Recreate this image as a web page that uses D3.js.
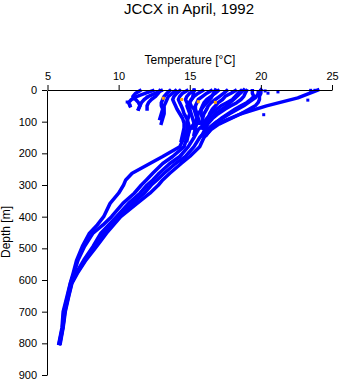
<!DOCTYPE html>
<html lang="en">
<head>
    <meta charset="UTF-8">
    <title>JCCX in April, 1992</title>
    <script src="https://cdn.jsdelivr.net/npm/d3@7"></script>
    <style>
        *{
            padding: 0;
            margin: 0;
        }
        body{
            background-color: #ffffff;
        }
        text{
            font-family: "Liberation Sans", Arial, sans-serif;
        }
    </style>
</head>
<body>
<div id="grafico"></div>

<script>
    // ticks
    var tempTicks = [5, 10, 15, 20, 25];
    var depthTicks = [0, 100, 200, 300, 400, 500, 600, 700, 800, 900];

    // deep casts, temperatures at common depths (m)
    var depthDeep = [0, 25, 50, 75, 100, 125, 150, 179, 210, 232, 263, 284, 300, 326, 358,
                     400, 426, 452, 494, 537, 579, 610, 650, 700, 750, 800];
    var cast1 = [15.3, 15.2, 14.8, 15.0, 14.8, 14.8, 14.6, 14.3, 13.1, 12.2, 10.95, 10.5, 10.35, 10.0, 9.4,
                 8.95, 8.5, 7.95, 7.45, 7.05, 6.8, 6.6, 6.38, 6.1, 6.02, 5.8];
    var cast2 = [16.8, 16.5, 16.0, 15.6, 15.4, 15.0, 14.8, 14.6, 13.8, 13.1, 12.4, 11.95, 11.6, 11.1, 10.3,
                 9.5, 8.9, 8.2, 7.6, 7.15, 6.85, 6.62, 6.42, 6.15, 6.05, 5.82];
    var cast3 = [18.8, 18.2, 17.6, 16.8, 16.2, 15.6, 15.3, 14.9, 14.3, 13.6, 12.85, 12.4, 12.0, 11.5, 10.7,
                 9.85, 9.3, 8.75, 8.2, 7.55, 7.0, 6.68, 6.45, 6.2, 6.07, 5.85];
    var cast4 = [20.0, 19.6, 18.8, 17.8, 16.9, 16.2, 15.7, 15.3, 14.7, 14.0, 13.2, 12.7, 12.3, 11.8, 11.0,
                 10.0, 9.5, 8.95, 8.35, 7.65, 7.05, 6.7, 6.48, 6.22, 6.08, 5.87];
    var cast5 = [24.0, 22.6, 20.4, 18.6, 17.3, 16.5, 16.0, 15.7, 15.0, 14.4, 13.6, 13.1, 12.8, 12.2, 11.3,
                 10.15, 9.65, 9.15, 8.45, 7.7, 7.1, 6.72, 6.5, 6.25, 6.1, 5.9];

    // shallow casts near the surface (null = no data)
    var depthShallow = [2, 10, 20, 30, 40, 50, 60, 75, 90, 105, 120, 140, 160];
    var shallow1 = [12.4, 11.9, 11.3, 10.9, 10.7, 10.8, null, null, null, null, null, null, null];
    var shallow2 = [13.0, 12.6, 12.1, 11.8, 11.6, 11.5, 11.4, null, null, null, null, null, null];
    var shallow3 = [13.6, 13.4, 13.2, 13.1, 13.0, 13.0, 13.1, 13.0, 12.9, null, null, null, null];
    var shallow4 = [14.3, 14.1, 13.9, 13.8, 13.9, 14.0, 14.1, 14.3, 14.5, 14.6, 14.6, 14.5, 14.4];
    var shallow5 = [15.3, 15.0, 14.8, 14.7, 14.8, 14.9, 15.0, 15.1, 15.2, 15.3, 15.2, null, null];
    var shallow6 = [16.5, 16.2, 15.9, 15.6, 15.5, 15.4, 15.4, 15.5, 15.6, 15.6, null, null, null];
    var shallow7 = [17.6, 17.4, 17.1, 16.8, 16.5, 16.3, 16.2, 16.0, 15.9, 15.8, null, null, null];
    var shallow8 = [18.6, 18.4, 18.2, 18.0, 17.6, 17.2, 16.9, 16.5, 16.2, 16.0, 15.9, null, null];
    var shallow9 = [19.4, 19.4, 19.5, 19.3, 19.0, 18.6, 18.2, 17.7, 17.2, 16.8, 16.5, 16.2, null];
    var shallow10 = [20.0, 20.0, 19.9, 19.9, 19.8, 19.6, 19.2, 18.6, 17.9, 17.2, null, null, null];
    var shallow11 = [14.8, 14.5, 14.3, 14.2, 14.3, 14.4, 14.5, 14.6, 14.8, 14.9, 15.0, 14.9, 14.8];
    var shallow12 = [15.9, 15.6, 15.3, 15.1, 15.0, 15.1, 15.3, 15.4, 15.5, 15.5, 15.4, 15.3, null];
    var shallow13 = [17.0, 16.8, 16.5, 16.2, 16.0, 15.9, 15.8, 15.8, 15.9, 16.0, 15.9, null, null];
    var shallow14 = [18.2, 17.9, 17.5, 17.3, 17.0, 16.8, 16.6, 16.4, 16.3, null, null, null, null];
    var shallow15 = [19.0, 18.9, 18.8, 18.6, 18.3, 17.9, 17.5, 17.0, 16.6, 16.3, 16.1, 15.9, null];
    var shallow16 = [11.5, 11.2, 11.0, 11.2, 11.4, 11.5, 11.4, null, null, null, null, null, null];
    var shallow17 = [12.9, 12.8, 12.6, 12.3, 12.1, 12.0, 12.0, null, null, null, null, null, null];
    var shallow18 = [14.0, 13.8, 13.5, 13.4, 13.3, 13.2, 13.2, 13.2, 13.1, 13.0, null, null, null];

    // loose points
    var dotT = [20.5, 20.2, 21.2, 23.3, 23.5, 23.8, 19.8, 20.3, 11.0, 12.0, 10.6, 10.8];
    var dotD = [10, 78, 6, 32, 1, 1, 5, 3, 28, 22, 38, 48];

    // highlighted points
    var markT = [13.14, 14.43, 15.6, 16.8];
    var markD = [26, 30, 37, 39];

    var w = 341;
    var h = 384;

    var xScale = d3.scaleLinear()
        .domain([5, 25])
        .range([47.5, 332]);
    var yScale = d3.scaleLinear()
        .domain([0, 900])
        .range([90, 375]);

    var grafico = d3.select("#grafico")
        .append("svg")
        .attr("width", w)
        .attr("height", h);

    function toPoints(depths, temps) {
        return depths.map(function(d, i) {
            return {d: d, t: temps[i]};
        });
    }

    var linea = d3.line()
        .defined(function(p) { return p.t != null; })
        .x(function(p) { return xScale(p.t); })
        .y(function(p) { return yScale(p.d); });

    var shallowCasts = [shallow1, shallow2, shallow3, shallow4, shallow5, shallow6,
                        shallow7, shallow8, shallow9, shallow10, shallow11, shallow12,
                        shallow13, shallow14, shallow15, shallow16, shallow17, shallow18];
    var deepCasts = [cast1, cast2, cast3, cast4, cast5];

    var casts = shallowCasts.map(function(c) { return toPoints(depthShallow, c); })
        .concat(deepCasts.map(function(c) { return toPoints(depthDeep, c); }));

    grafico.selectAll("path.cast")
        .data(casts)
        .enter()
        .append("path")
        .attr("class", "cast")
        .attr("d", linea)
        .attr("fill", "none")
        .attr("stroke", "#0000ff")
        .attr("stroke-width", 3.5)
        .attr("stroke-linejoin", "round")
        .attr("stroke-linecap", "square");

    grafico.selectAll("rect.dot")
        .data(toPoints(dotD, dotT))
        .enter()
        .append("rect")
        .attr("class", "dot")
        .attr("x", function(p) { return xScale(p.t) - 1.5; })
        .attr("y", function(p) { return yScale(p.d) - 1.5; })
        .attr("width", 3)
        .attr("height", 3)
        .attr("fill", "#0000ff");

    grafico.selectAll("rect.mark")
        .data(toPoints(markD, markT))
        .enter()
        .append("rect")
        .attr("class", "mark")
        .attr("x", function(p) { return xScale(p.t) - 1.5; })
        .attr("y", function(p) { return yScale(p.d) - 1.5; })
        .attr("width", 3)
        .attr("height", 3)
        .attr("fill", "#ffa500");

    // axes
    var ejeX = grafico.append("g")
        .attr("transform", "translate(0,90)")
        .call(d3.axisTop(xScale).tickValues(tempTicks).tickSize(5).tickSizeOuter(0).tickPadding(5));
    var ejeY = grafico.append("g")
        .attr("transform", "translate(47,0)")
        .call(d3.axisLeft(yScale).tickValues(depthTicks).tickSize(5).tickSizeOuter(0).tickPadding(5));

    grafico.selectAll(".tick text")
        .attr("font-size", "11px")
        .attr("font-family", "Liberation Sans, Arial, sans-serif")
        .attr("fill", "#000");
    grafico.selectAll(".domain, .tick line")
        .attr("stroke", "#000");

    grafico.append("text")
        .attr("x", 189)
        .attr("y", 14)
        .attr("text-anchor", "middle")
        .attr("font-size", "15px")
        .text("JCCX in April, 1992");

    grafico.append("text")
        .attr("x", 190)
        .attr("y", 64)
        .attr("text-anchor", "middle")
        .attr("font-size", "12px")
        .text("Temperature [°C]");

    grafico.append("text")
        .attr("transform", "translate(10,232) rotate(-90)")
        .attr("text-anchor", "middle")
        .attr("font-size", "12px")
        .text("Depth [m]");
</script>
</body>
</html>
